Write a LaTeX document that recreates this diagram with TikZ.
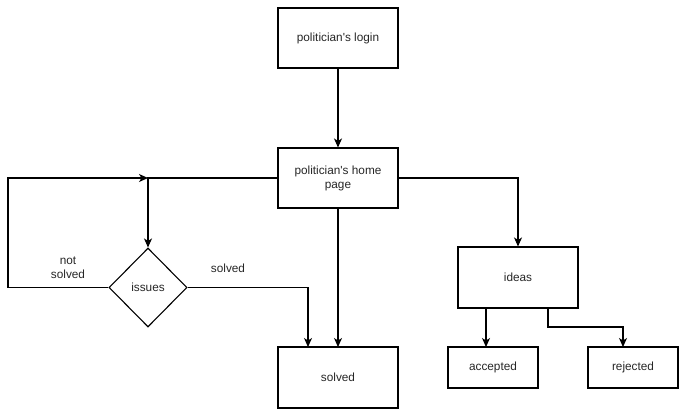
\documentclass[tikz,border=0pt]{standalone}
\usepackage{fontspec}
\setmainfont{Liberation Sans}
\usetikzlibrary{shapes.geometric,arrows.meta}
\begin{document}
\begin{tikzpicture}[x=1pt,y=-1pt,
  every node/.style={font=\fontsize{11.8}{14}\selectfont, text=black!85},
  box/.style={draw, line width=1.1pt, inner sep=0pt, align=center},
  dia/.style={draw, diamond, line width=1.1pt, inner sep=0pt, minimum width=78pt, minimum height=79pt},
  lbl/.style={align=center, inner sep=0pt},
  conn/.style={draw, line width=1.1pt, -{Stealth[length=9pt,width=8pt,inset=2.5pt]}}
]
\useasboundingbox (0,0) rectangle (686,416);
\node[box, minimum width=120pt, minimum height=60pt] (login) at (338,38) {politician\textquotesingle s login};
\node[box, minimum width=120pt, minimum height=60pt] (home) at (338,178) {politician\textquotesingle s home\\page};
\node[dia] (issues) at (148,287.5) {issues};
\node[box, minimum width=120pt, minimum height=61pt] (solvedbox) at (338,377.5) {solved};
\node[box, minimum width=120pt, minimum height=61pt] (ideas) at (518,277.5) {ideas};
\node[box, minimum width=90pt, minimum height=41pt] (accepted) at (493,367.5) {accepted};
\node[box, minimum width=90pt, minimum height=41pt] (rejected) at (633,367.5) {rejected};
\coordinate (junc) at (148,178);
\node[lbl] (notsolvedlbl) at (68,267.5) {not\\solved};
\node[lbl] (solvedlbl) at (228,268) {solved};

\draw[conn] (login) -- (home);
\draw[conn] (home.west) -- (junc) -- (issues.north);
\draw[conn] (issues.west) -- (8,287.5) -- (8,178) -- (junc);
\draw[conn] (issues.east) -- (308,287.5) -- (308,347);
\draw[conn] (home.south) -- (338,347);
\draw[conn] (home.east) -- (518,178) -- (ideas.north);
\draw[conn] (486,308) -- (486,347);
\draw[conn] (548,308) -- (548,327) -- (623,327) -- (623,347);
\end{tikzpicture}
\end{document}
